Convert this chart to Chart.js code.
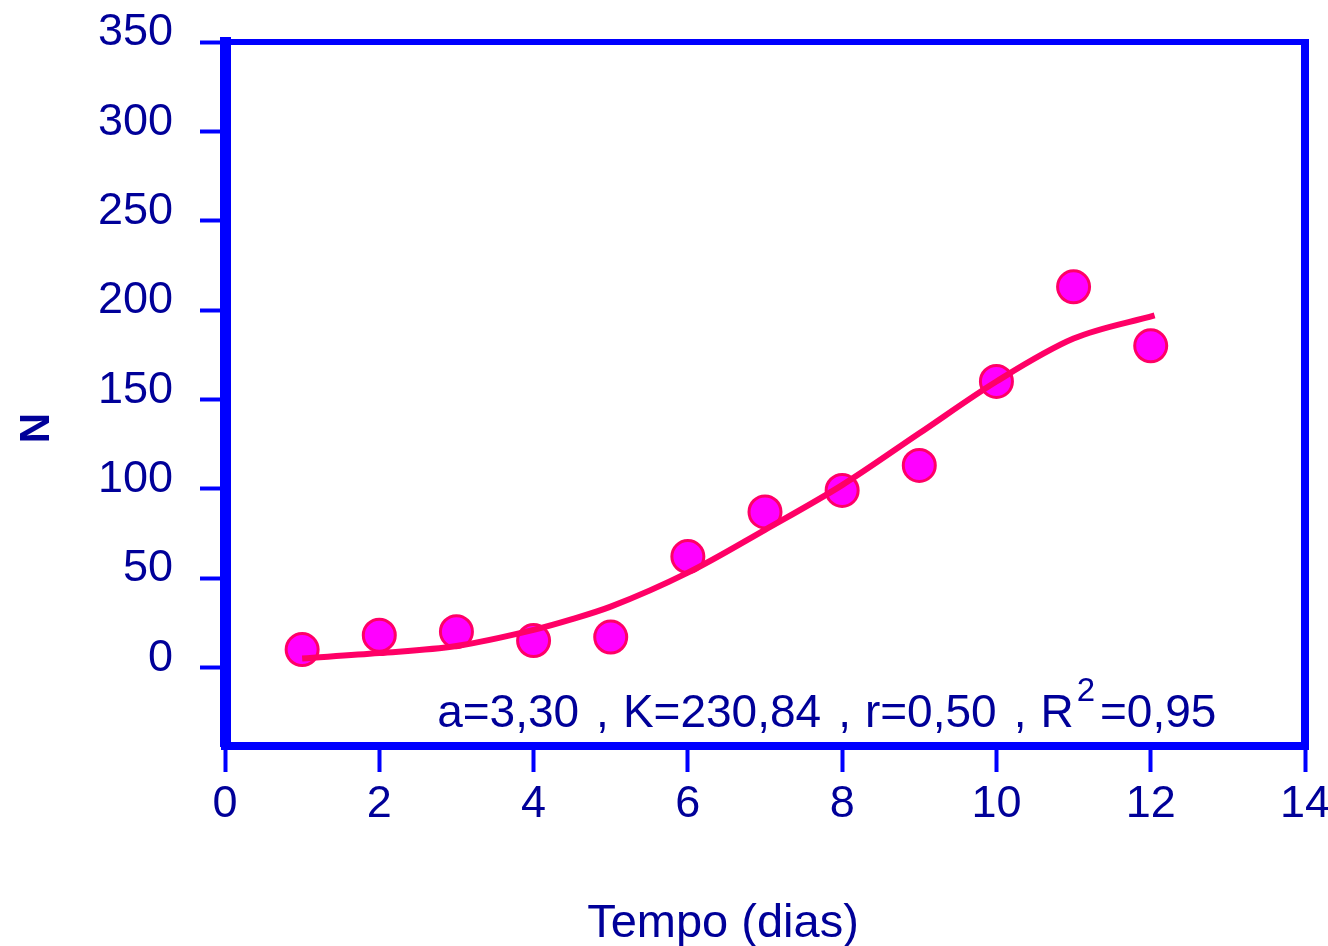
<!DOCTYPE html>
<html>
<head>
<meta charset="utf-8">
<script src="https://cdn.jsdelivr.net/npm/chart.js@4.4.0/dist/chart.umd.min.js"></script>
<style>
  html, body { margin: 0; padding: 0; background: #fff; }
</style>
</head>
<body>
<canvas id="LogChart" width="1328" height="946"></canvas>
<script>
// observed data (days, N)
const days = [1, 2, 3, 4, 5, 6, 7, 8, 9, 10, 11, 12];
const observedN = [10, 18, 20, 15, 17, 62, 87, 99, 113, 160, 213, 180];

// fitted logistic curve
const fitDays = [1, 2, 3, 4, 4.5, 5, 6, 7, 8, 9, 10, 11, 12.05];
const fitN = [5, 8, 12, 21, 27, 34, 53, 77, 102, 131, 160, 184, 197];

const xTicks = [0, 2, 4, 6, 8, 10, 12, 14];
const yTicks = [0, 50, 100, 150, 200, 250, 300, 350];

// fit parameters text
const fitLabels = ['a=3,30', 'K=230,84', 'r=0,50', 'R'];
const r2Label = '=0,95';

const navy = '#000099';
const blue = '#0000ff';
const fontFam = '"Liberation Sans", Arial, sans-serif';

//frame + titles + annotation
const extras = {
    id: 'extras',
    beforeDatasetsDraw(chart) {
        const { ctx, chartArea } = chart;
        ctx.save();
        ctx.strokeStyle = blue;
        // top
        ctx.lineWidth = 6;
        ctx.beginPath();
        ctx.moveTo(chartArea.left, chartArea.top);
        ctx.lineTo(chartArea.right + 4, chartArea.top);
        ctx.stroke();
        // right
        ctx.lineWidth = 8;
        ctx.beginPath();
        ctx.moveTo(chartArea.right, chartArea.top - 3);
        ctx.lineTo(chartArea.right, chartArea.bottom + 4);
        ctx.stroke();
        ctx.restore();
    },
    afterDraw(chart) {
        const { ctx, chartArea, scales } = chart;
        ctx.save();
        ctx.fillStyle = navy;

        // y title
        ctx.font = 'bold 42px ' + fontFam;
        ctx.textAlign = 'center';
        ctx.textBaseline = 'middle';
        ctx.translate(37, (chartArea.top + chartArea.bottom) / 2 + 34);
        ctx.rotate(-Math.PI / 2);
        ctx.fillText('N', 0, 0);
        ctx.setTransform(1, 0, 0, 1, 0, 0);

        // x title
        ctx.font = '47px ' + fontFam;
        ctx.textAlign = 'center';
        ctx.textBaseline = 'alphabetic';
        ctx.fillText('Tempo (dias)', (chartArea.left + chartArea.right) / 2 - 42, 937);

        // fit parameters
        let x = scales.x.getPixelForValue(2.75);
        const y = scales.y.getPixelForValue(-33.5);
        ctx.textAlign = 'left';
        ctx.font = '46px ' + fontFam;
        fitLabels.forEach((t, i) => {
            ctx.fillText(t, x, y);
            x += ctx.measureText(t).width;
            if (i < fitLabels.length - 1) {
                x += 17;
                ctx.fillText(',', x, y);
                x += ctx.measureText(',').width + 14;
            }
        });
        x += 3;
        ctx.font = '33px ' + fontFam;
        ctx.fillText('2', x, y - 26);
        x += ctx.measureText('2').width + 5;
        ctx.font = '46px ' + fontFam;
        ctx.fillText(r2Label, x, y);
        ctx.restore();
    }
};

const ctx = document.getElementById('LogChart');
new Chart(ctx, {
    type: 'scatter',
    data: {
        datasets: [{
            label: 'fit',
            data: fitDays.map((d, i) => ({ x: d, y: fitN[i] })),
            showLine: true,
            borderColor: '#ff0066',
            borderWidth: 6,
            pointRadius: 0,
            cubicInterpolationMode: 'monotone'
        }, {
            label: 'N',
            data: days.map((d, i) => ({ x: d, y: observedN[i] })),
            backgroundColor: '#ff00ff',
            borderColor: '#ff0066',
            borderWidth: 3,
            pointRadius: 16
        }]
    },
    plugins: [extras],
    options: {
        responsive: false,
        animation: false,
        devicePixelRatio: 1,
        layout: { padding: { top: 42, right: 23, left: 0, bottom: 0 } },
        plugins: { legend: { display: false }, tooltip: { enabled: false } },
        scales: {
            x: {
                type: 'linear',
                min: 0,
                max: 14,
                afterBuildTicks: (axis) => { axis.ticks = xTicks.map(v => ({ value: v })); },
                afterFit: (axis) => {
                    axis.height = 200;
                    axis.paddingLeft = 0;
                    axis.paddingRight = 0;
                },
                ticks: {
                    color: navy,
                    font: { family: fontFam, size: 45 },
                    padding: 6,
                    maxRotation: 0
                },
                grid: {
                    drawOnChartArea: false,
                    drawTicks: true,
                    tickLength: 26,
                    tickWidth: 4,
                    tickColor: blue
                },
                border: { display: true, color: blue, width: 8 }
            },
            y: {
                min: -44,
                max: 350,
                afterBuildTicks: (axis) => { axis.ticks = yTicks.map(v => ({ value: v })); },
                afterFit: (axis) => {
                    axis.width = 225;
                    axis.paddingTop = 0;
                    axis.paddingBottom = 0;
                },
                ticks: {
                    color: navy,
                    font: { family: fontFam, size: 45 },
                    padding: 27,
                    labelOffset: -9
                },
                grid: {
                    drawOnChartArea: false,
                    drawTicks: true,
                    tickLength: 25,
                    tickWidth: 4,
                    tickColor: blue
                },
                border: { display: true, color: blue, width: 11 }
            }
        }
    }
});
</script>
</body>
</html>
